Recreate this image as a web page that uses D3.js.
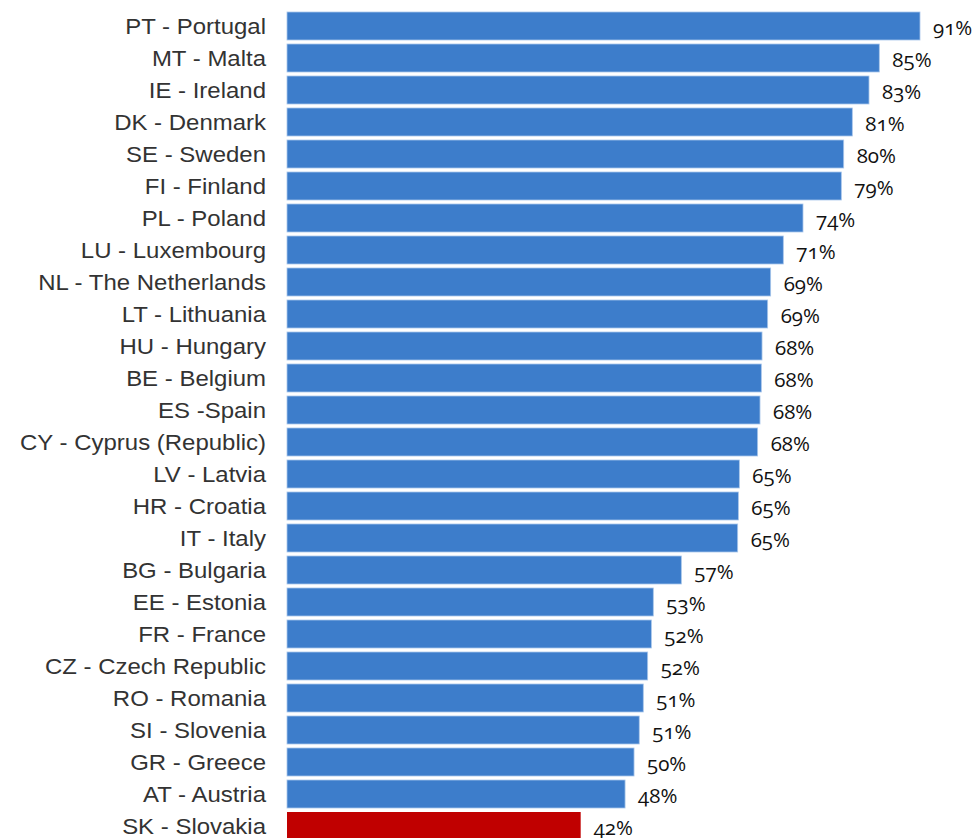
<!DOCTYPE html>
<html>
<head>
<meta charset="utf-8">
<script src="https://cdn.jsdelivr.net/npm/d3@7"></script>
<style>
  html, body { margin: 0; padding: 0; background: #fff; }
  svg { display: block; }
  .cat { font-family: "Liberation Sans", Arial, sans-serif; fill: #333; }
  .val { font-family: "Open Sans", sans-serif; fill: #111; font-variant-numeric: oldstyle-nums; font-feature-settings: "onum" 1; }
</style>
</head>
<body>
<svg id="chart" width="975" height="838"></svg>
<script>
const categories = [
  "PT - Portugal", "MT - Malta", "IE - Ireland", "DK - Denmark", "SE - Sweden",
  "FI - Finland", "PL - Poland", "LU - Luxembourg", "NL - The Netherlands",
  "LT - Lithuania", "HU - Hungary", "BE - Belgium", "ES -Spain",
  "CY - Cyprus (Republic)", "LV - Latvia", "HR - Croatia", "IT - Italy",
  "BG - Bulgaria", "EE - Estonia", "FR - France", "CZ - Czech Republic",
  "RO - Romania", "SI - Slovenia", "GR - Greece", "AT - Austria", "SK - Slovakia"
];
const values = [
  91.0, 85.15, 83.67, 81.27, 80.03, 79.69, 74.18, 71.35, 69.53, 69.1,
  68.29, 68.19, 68.0, 67.66, 65.03, 64.89, 64.79, 56.69, 52.66, 52.38,
  51.85, 51.22, 50.64, 49.89, 48.6, 42.22
];
const valueLabels = [
  "91%", "85%", "83%", "81%", "80%", "79%", "74%", "71%", "69%", "69%",
  "68%", "68%", "68%", "68%", "65%", "65%", "65%", "57%", "53%", "52%",
  "52%", "51%", "51%", "50%", "48%", "42%"
];
const highlight = ["SK - Slovakia"];

const data = categories.map((c, i) => ({ cat: c, value: values[i], label: valueLabels[i] }));

const svg = d3.select("#chart");
const x = d3.scaleLinear().domain([0, 100]).range([287, 287 + 695.6]);
const y = d3.scaleBand().domain(categories).range([10, 842]).paddingInner(0.125).paddingOuter(0.0625);

svg.selectAll("rect.bar").data(data).join("rect")
  .attr("class", "bar")
  .attr("x", x(0))
  .attr("y", d => y(d.cat))
  .attr("width", d => x(d.value) - x(0))
  .attr("height", y.bandwidth())
  .attr("fill", d => highlight.includes(d.cat) ? "#c00000" : "#3d7dcb")
  .attr("stroke", d => highlight.includes(d.cat) ? "none" : "#a9c6ea")
  .attr("stroke-width", 0.8);

// category labels (left axis, no line)
const yAxis = d3.axisLeft(y).tickSize(0).tickPadding(0);
const gy = svg.append("g").attr("transform", `translate(${x(0) - 21},0)`).call(yAxis);
gy.select(".domain").remove();
gy.selectAll("text")
  .attr("class", "cat")
  .attr("font-size", 22)
  .attr("dy", "0.36em")
  .attr("dx", 0)
  .attr("transform", "scale(1.09,1)")
  .style("font-family", "'Liberation Sans', Arial, sans-serif")
  .style("fill", "#333");

svg.selectAll("text.val").data(data).join("text")
  .attr("class", "val")
  .attr("x", d => x(d.value) + 13)
  .attr("y", d => y(d.cat) + y.bandwidth() / 2 + 9)
  .attr("font-size", 20.5)
  .text(d => d.label);
</script>
</body>
</html>
